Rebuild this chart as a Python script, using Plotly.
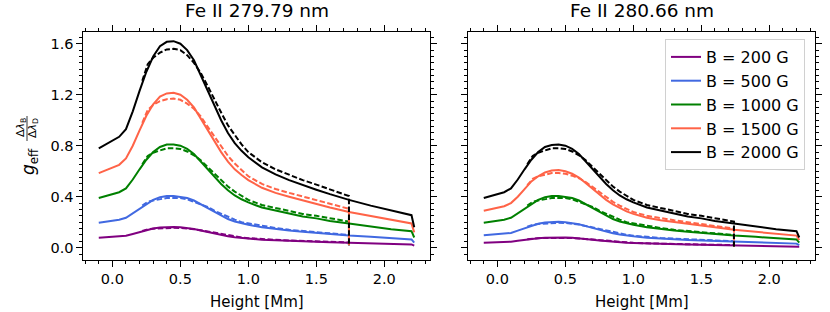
import plotly.graph_objects as go

# ---------------- data ----------------
height = [-0.1, 0.05, 0.1, 0.15, 0.2, 0.25, 0.3, 0.35, 0.4, 0.45, 0.5, 0.55, 0.6, 0.65, 0.7, 0.75,
          0.8, 0.85, 0.9, 0.95, 1.0, 1.1, 1.2, 1.3, 1.4, 1.5, 1.6, 1.74, 1.9, 2.05, 2.2, 2.22]
height_dash = [0.22, 0.26, 0.3, 0.35, 0.4, 0.45, 0.5, 0.55, 0.6, 0.65, 0.7, 0.75, 0.8, 0.85, 0.9,
               0.95, 1.0, 1.1, 1.2, 1.3, 1.4, 1.5, 1.6, 1.74, 1.74]

labels = ["B = 200 G", "B = 500 G", "B = 1000 G", "B = 1500 G", "B = 2000 G"]
colors = ["#800080", "#4169e1", "#008000", "#ff6347", "#000000"]

# Fe II 279.79 nm, solid
l_b200 = [0.078, 0.087, 0.093, 0.107, 0.123, 0.138, 0.150, 0.158, 0.162, 0.162, 0.160, 0.155, 0.147, 0.135, 0.123, 0.111,
          0.100, 0.090, 0.082, 0.076, 0.071, 0.063, 0.058, 0.053, 0.049, 0.046, 0.042, 0.038, 0.033, 0.029, 0.026, 0.016]
l_b500 = [0.195, 0.22, 0.235, 0.27, 0.31, 0.345, 0.375, 0.395, 0.405, 0.405, 0.40, 0.39, 0.37, 0.34, 0.31, 0.28,
          0.25, 0.225, 0.205, 0.19, 0.18, 0.16, 0.145, 0.135, 0.125, 0.115, 0.105, 0.095, 0.085, 0.075, 0.065, 0.04]
l_b1000 = [0.39, 0.435, 0.465, 0.535, 0.615, 0.69, 0.75, 0.79, 0.81, 0.81, 0.80, 0.775, 0.735, 0.675, 0.615, 0.555,
           0.50, 0.45, 0.41, 0.38, 0.355, 0.315, 0.29, 0.265, 0.245, 0.23, 0.21, 0.19, 0.165, 0.145, 0.13, 0.08]
l_b1500 = [0.585, 0.65, 0.70, 0.80, 0.92, 1.035, 1.125, 1.185, 1.21, 1.215, 1.20, 1.16, 1.10, 1.01, 0.92, 0.83,
           0.75, 0.675, 0.615, 0.57, 0.53, 0.47, 0.43, 0.40, 0.37, 0.34, 0.315, 0.28, 0.25, 0.22, 0.19, 0.12]
l_b2000 = [0.78, 0.87, 0.93, 1.07, 1.23, 1.38, 1.50, 1.58, 1.615, 1.62, 1.60, 1.55, 1.47, 1.35, 1.23, 1.11,
           1.00, 0.90, 0.82, 0.76, 0.71, 0.63, 0.575, 0.53, 0.49, 0.455, 0.42, 0.375, 0.33, 0.29, 0.255, 0.16]
# Fe II 279.79 nm, dashed
l_b200_d = [0.131, 0.144, 0.149, 0.153, 0.156, 0.156, 0.155, 0.151, 0.145, 0.137, 0.127, 0.116, 0.106, 0.096, 0.088,
            0.081, 0.075, 0.067, 0.062, 0.057, 0.053, 0.050, 0.046, 0.041, 0.02]
l_b500_d = [0.33, 0.36, 0.37, 0.38, 0.39, 0.39, 0.39, 0.38, 0.36, 0.34, 0.32, 0.29, 0.265, 0.24, 0.22,
            0.20, 0.19, 0.17, 0.155, 0.14, 0.13, 0.125, 0.115, 0.10, 0.02]
l_b1000_d = [0.655, 0.72, 0.745, 0.765, 0.78, 0.78, 0.775, 0.755, 0.725, 0.685, 0.635, 0.58, 0.53, 0.48, 0.44,
             0.405, 0.375, 0.335, 0.31, 0.285, 0.265, 0.25, 0.23, 0.205, 0.02]
l_b1500_d = [0.98, 1.08, 1.12, 1.15, 1.165, 1.17, 1.16, 1.13, 1.09, 1.03, 0.95, 0.87, 0.795, 0.72, 0.66,
             0.61, 0.56, 0.50, 0.46, 0.43, 0.40, 0.37, 0.345, 0.305, 0.02]
l_b2000_d = [1.31, 1.44, 1.49, 1.53, 1.555, 1.56, 1.55, 1.51, 1.45, 1.37, 1.27, 1.16, 1.06, 0.96, 0.88,
             0.81, 0.75, 0.67, 0.615, 0.57, 0.53, 0.495, 0.46, 0.405, 0.02]

# Fe II 280.66 nm, solid
r_b200 = [0.039, 0.044, 0.047, 0.054, 0.062, 0.069, 0.075, 0.079, 0.081, 0.081, 0.080, 0.078, 0.074, 0.068, 0.062, 0.056,
          0.050, 0.045, 0.041, 0.038, 0.036, 0.032, 0.029, 0.027, 0.025, 0.023, 0.021, 0.019, 0.017, 0.015, 0.013, 0.008]
r_b500 = [0.098, 0.109, 0.116, 0.134, 0.154, 0.173, 0.188, 0.198, 0.202, 0.203, 0.20, 0.194, 0.184, 0.169, 0.154, 0.139,
          0.125, 0.113, 0.103, 0.095, 0.089, 0.079, 0.072, 0.066, 0.061, 0.057, 0.053, 0.047, 0.041, 0.036, 0.032, 0.02]
r_b1000 = [0.195, 0.22, 0.235, 0.27, 0.31, 0.345, 0.375, 0.395, 0.405, 0.405, 0.40, 0.39, 0.37, 0.34, 0.31, 0.28,
           0.25, 0.225, 0.205, 0.19, 0.18, 0.16, 0.145, 0.135, 0.125, 0.115, 0.105, 0.095, 0.085, 0.075, 0.065, 0.04]
r_b1500 = [0.29, 0.325, 0.35, 0.40, 0.46, 0.52, 0.56, 0.59, 0.605, 0.61, 0.60, 0.58, 0.55, 0.505, 0.46, 0.415,
           0.375, 0.34, 0.31, 0.285, 0.265, 0.235, 0.215, 0.20, 0.185, 0.17, 0.16, 0.14, 0.125, 0.11, 0.095, 0.06]
r_b2000 = [0.39, 0.435, 0.465, 0.535, 0.615, 0.69, 0.75, 0.79, 0.805, 0.81, 0.80, 0.775, 0.735, 0.675, 0.615, 0.555,
           0.50, 0.45, 0.41, 0.38, 0.355, 0.315, 0.29, 0.265, 0.245, 0.23, 0.21, 0.19, 0.165, 0.145, 0.13, 0.08]
# Fe II 280.66 nm, dashed
r_b200_d = [0.066, 0.072, 0.075, 0.077, 0.078, 0.078, 0.078, 0.076, 0.073, 0.069, 0.064, 0.058, 0.053, 0.048, 0.044,
            0.041, 0.038, 0.034, 0.031, 0.029, 0.027, 0.025, 0.023, 0.021, 0.01]
r_b500_d = [0.165, 0.18, 0.186, 0.19, 0.195, 0.195, 0.194, 0.189, 0.181, 0.171, 0.159, 0.145, 0.133, 0.12, 0.11,
            0.101, 0.094, 0.084, 0.077, 0.071, 0.066, 0.062, 0.058, 0.051, 0.01]
r_b1000_d = [0.33, 0.36, 0.37, 0.38, 0.39, 0.39, 0.39, 0.38, 0.36, 0.34, 0.32, 0.29, 0.265, 0.24, 0.22,
             0.20, 0.19, 0.17, 0.155, 0.14, 0.13, 0.125, 0.115, 0.10, 0.01]
r_b1500_d = [0.49, 0.54, 0.56, 0.575, 0.585, 0.585, 0.58, 0.565, 0.545, 0.515, 0.475, 0.435, 0.40, 0.36, 0.33,
             0.305, 0.28, 0.25, 0.23, 0.215, 0.20, 0.185, 0.17, 0.15, 0.01]
r_b2000_d = [0.655, 0.72, 0.745, 0.765, 0.78, 0.78, 0.775, 0.755, 0.725, 0.685, 0.635, 0.58, 0.53, 0.48, 0.44,
             0.405, 0.375, 0.335, 0.31, 0.285, 0.265, 0.25, 0.23, 0.205, 0.01]

x_ticks = [0.0, 0.5, 1.0, 1.5, 2.0]
y_ticks = [0.0, 0.4, 0.8, 1.2, 1.6]
titles = ["Fe II 279.79 nm", "Fe II 280.66 nm"]

# ---------------- figure ----------------
W, Hpx = 830, 312
FONT = "DejaVu Sans"
fig = go.Figure()

left_solid = [l_b200, l_b500, l_b1000, l_b1500, l_b2000]
left_dash = [l_b200_d, l_b500_d, l_b1000_d, l_b1500_d, l_b2000_d]
right_solid = [r_b200, r_b500, r_b1000, r_b1500, r_b2000]
right_dash = [r_b200_d, r_b500_d, r_b1000_d, r_b1500_d, r_b2000_d]

for panel, (sol, das) in enumerate([(left_solid, left_dash), (right_solid, right_dash)]):
    xa = "x" if panel == 0 else "x2"
    ya = "y" if panel == 0 else "y2"
    for i in range(5):
        fig.add_trace(go.Scatter(x=height, y=sol[i], mode="lines", xaxis=xa, yaxis=ya,
                                 line=dict(color=colors[i], width=2), name=labels[i],
                                 showlegend=(panel == 1), legendrank=i + 1))
        fig.add_trace(go.Scatter(x=height_dash, y=das[i], mode="lines", xaxis=xa, yaxis=ya,
                                 line=dict(color=colors[i], width=2, dash="5.5px,2.4px"),
                                 showlegend=False))

def px2x(p):
    return p / W

def px2y(p):
    return 1 - p / Hpx

xr = [-0.216, 2.336]
yr = [-0.0965, 1.692]
ydom = [px2y(260), px2y(32)]

common_x = dict(range=xr, tickvals=x_ticks, ticktext=[f"{v:.1f}" for v in x_ticks],
                ticks="outside", ticklen=5.5, tickwidth=1.1, tickcolor="black",
                showline=True, linecolor="black", linewidth=1.1, mirror="ticks",
                showgrid=False, zeroline=False,
                tickfont=dict(family=FONT, size=14.5, color="black"),
                minor=dict(dtick=0.1, tick0=0, ticks="outside", ticklen=3, tickwidth=0.8, tickcolor="black"))
common_y = dict(range=yr, domain=ydom, tickvals=y_ticks, ticktext=[f"{v:.1f}" for v in y_ticks],
                ticks="outside", ticklen=5.5, tickwidth=1.1, tickcolor="black",
                showline=True, linecolor="black", linewidth=1.1, mirror="ticks",
                showgrid=False, zeroline=False,
                tickfont=dict(family=FONT, size=14.5, color="black"),
                minor=dict(dtick=0.05, tick0=0, ticks="outside", ticklen=3, tickwidth=0.8, tickcolor="black"))

fig.update_layout(
    width=W, height=Hpx, autosize=False,
    margin=dict(l=0, r=0, t=0, b=0),
    paper_bgcolor="white", plot_bgcolor="white",
    font=dict(family=FONT, color="black"),
    xaxis=dict(common_x, domain=[px2x(83), px2x(430)], anchor="y"),
    xaxis2=dict(common_x, domain=[px2x(468), px2x(815)], anchor="y2"),
    yaxis=dict(common_y, anchor="x"),
    yaxis2=dict(common_y, anchor="x2", matches="y", showticklabels=False),
    legend=dict(x=px2x(805), y=px2y(39), xanchor="right", yanchor="top",
                bgcolor="rgba(255,255,255,0.8)", bordercolor="#d0d0d0", borderwidth=1,
                font=dict(family=FONT, size=16, color="black"), tracegroupgap=0),
    showlegend=True,
)

# titles
for cx, t in zip([256.5, 641.5], titles):
    fig.add_annotation(x=px2x(cx), y=px2y(11), xref="paper", yref="paper", text=t, showarrow=False,
                       xanchor="center", yanchor="middle", font=dict(family=FONT, size=18.5, color="black"))
# x axis labels
for cx in [256.5, 641.5]:
    fig.add_annotation(x=px2x(cx), y=px2y(302), xref="paper", yref="paper", text="Height [Mm]",
                       showarrow=False, xanchor="center", yanchor="middle",
                       font=dict(family=FONT, size=15, color="black"))
# y axis label: g_eff * (Δλ_B / Δλ_D)
fig.add_annotation(x=px2x(29), y=px2y(162), xref="paper", yref="paper", text="<i>g</i><sub>eff</sub>",
                   showarrow=False, textangle=-90, xanchor="center", yanchor="middle",
                   font=dict(family=FONT, size=17, color="black"))
fig.add_annotation(x=px2x(21), y=px2y(128), xref="paper", yref="paper", text="Δ<i>λ</i><sub>B</sub>",
                   showarrow=False, textangle=-90, xanchor="center", yanchor="middle",
                   font=dict(family=FONT, size=11, color="black"))
fig.add_annotation(x=px2x(33), y=px2y(128), xref="paper", yref="paper", text="Δ<i>λ</i><sub>D</sub>",
                   showarrow=False, textangle=-90, xanchor="center", yanchor="middle",
                   font=dict(family=FONT, size=11, color="black"))
fig.add_shape(type="line", xref="paper", yref="paper", x0=px2x(27), x1=px2x(27), y0=px2y(116), y1=px2y(141),
              line=dict(color="black", width=0.8))

fig.write_html("out.html", config={"displayModeBar": False},
               post_script="document.body.style.margin='0';document.body.style.padding='0';")
